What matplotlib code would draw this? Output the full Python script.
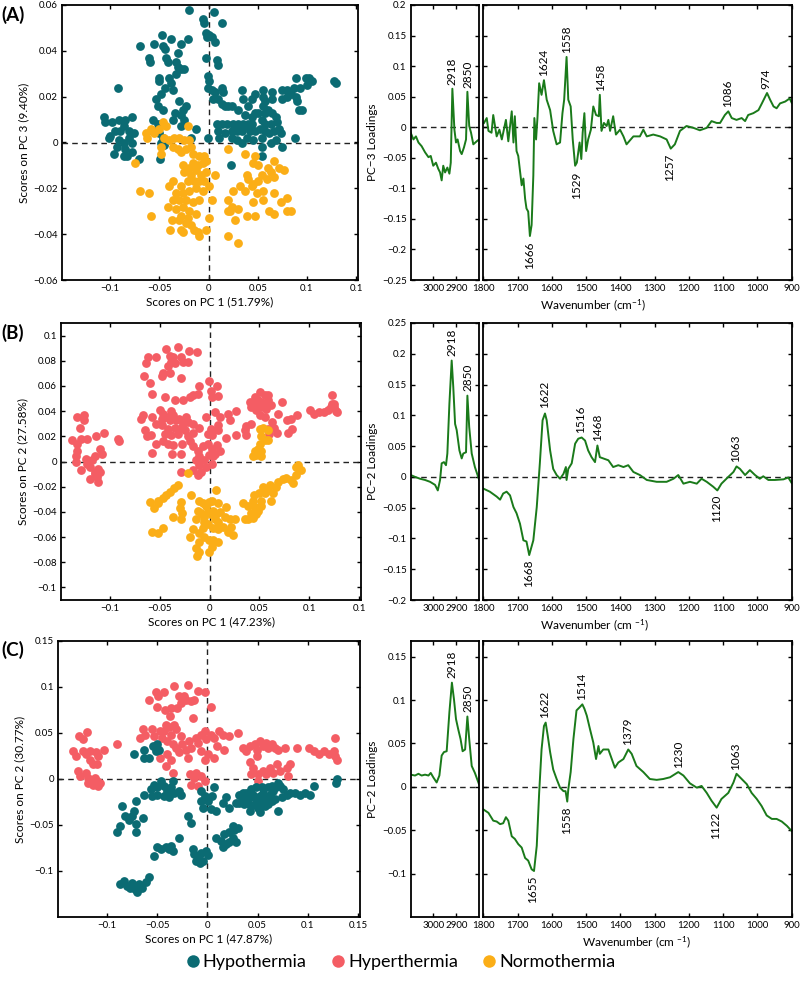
import numpy as np
import matplotlib.pyplot as plt
from matplotlib.lines import Line2D

plt.rcParams['font.family'] = ['Lato', 'DejaVu Sans']
plt.rcParams['mathtext.default'] = 'regular'
plt.rcParams['axes.linewidth'] = 1.3
plt.rcParams['xtick.direction'] = 'in'
plt.rcParams['ytick.direction'] = 'in'
plt.rcParams['xtick.top'] = True
plt.rcParams['ytick.right'] = True

TEAL, RED, ORANGE, GREEN = '#0b6b73', '#f45d64', '#fbae17', '#1a7a1a'
group_names = ['Hypothermia', 'Hyperthermia', 'Normothermia']

# ---------------- scores (A): PC1 vs PC3 ----------------
a_hypo = [(-0.020, 0.058), (0.006, 0.057), (-0.006, 0.054), (0.014, 0.052), (-0.005, 0.052), (-0.003, 0.048),
          (0, 0.047), (0.004, 0.046), (0.007, 0.044), (-0.002, 0.046), (-0.070, 0.042), (-0.047, 0.047),
          (-0.055, 0.043), (-0.046, 0.042), (-0.044, 0.041), (-0.038, 0.045), (-0.028, 0.043), (-0.021, 0.045),
          (-0.031, 0.039), (-0.003, 0.037), (0.009, 0.036), (0.010, 0.034), (-0.061, 0.037), (-0.060, 0.035),
          (-0.043, 0.037), (-0.041, 0.035), (-0.033, 0.035), (-0.031, 0.033), (-0.028, 0.032), (-0.025, 0.032),
          (-0.050, 0.028), (-0.050, 0.027), (-0.040, 0.028), (-0.038, 0.026), (-0.044, 0.024), (-0.036, 0.023),
          (-0.048, 0.021), (-0.033, 0.030), (-0.001, 0.029), (0, 0.027), (-0.001, 0.024), (0.004, 0.023),
          (0.007, 0.022), (0.014, 0.024), (0.015, 0.022), (0.034, 0.023), (0.055, 0.023), (0.065, 0.022),
          (0.075, 0.023), (0.080, 0.023), (0.089, 0.028), (0.099, 0.028), (0.102, 0.028), (0.105, 0.027),
          (0.100, 0.025), (0.128, 0.027), (0.130, 0.026), (0.093, 0.024), (0.087, 0.024), (0.084, 0.021),
          (0.089, 0.020), (0.090, 0.018), (0.092, 0.014), (0.095, 0.014), (0.080, 0.020), (-0.092, 0.024),
          (-0.091, 0.010), (-0.098, 0.009), (-0.106, 0.011), (-0.105, 0.009), (-0.085, 0.010), (-0.078, 0.011),
          (-0.086, 0.007), (-0.081, 0.005), (-0.076, 0.004), (-0.095, 0.005), (-0.090, 0.005), (-0.100, 0.003),
          (-0.091, 0.001), (-0.093, -0.002), (-0.086, 0), (-0.081, 0.002), (-0.078, 0), (-0.085, -0.003),
          (-0.086, -0.006), (-0.096, -0.005), (-0.083, -0.006), (-0.071, -0.007), (-0.078, -0.004), (-0.101, 0.002),
          (-0.053, 0.019), (-0.051, 0.016), (-0.046, 0.014), (-0.056, 0.010), (-0.051, 0.008), (-0.050, 0.004),
          (-0.046, 0.002), (-0.048, 0), (-0.045, -0.001), (-0.049, -0.007), (-0.056, 0.005), (-0.030, 0.018),
          (-0.026, 0.014), (-0.028, 0.012), (-0.023, 0.016), (-0.025, 0.010), (-0.013, 0.006), (-0.018, 0.002),
          (-0.028, 0.007), (-0.036, 0.010), (-0.034, 0.013), (-0.001, 0.002), (0.005, 0.019), (0.010, 0.019),
          (0.014, 0.017), (0.017, 0.016), (0.020, 0.016), (0.024, 0.016), (0.030, 0.014), (0.037, 0.012),
          (0.044, 0.011), (0.047, 0.013), (0.050, 0.013), (0.057, 0.013), (0.060, 0.014), (0.065, 0.013),
          (0.069, 0.011), (0.070, 0.009), (0.064, 0.008), (0.057, 0.008), (0.054, 0.010), (0.044, 0.008),
          (0.040, 0.008), (0.035, 0.008), (0.030, 0.008), (0.025, 0.008), (0.019, 0.008), (0.014, 0.008),
          (0.009, 0.008), (0.010, 0.005), (0.011, 0.002), (0.017, 0.004), (0.024, 0.005), (0.029, 0.005),
          (0.034, 0.005), (0.039, 0.007), (0.042, 0.005), (0.047, 0.005), (0.052, 0.006), (0.057, 0.005),
          (0.062, 0.004), (0.067, 0.005), (0.072, 0.006), (0.074, 0.004), (0.069, 0.001), (0.064, 0),
          (0.075, -0.002), (0.088, 0.002), (0.054, 0.002), (0.045, 0.001), (0.039, 0.002), (0.034, 0),
          (0.029, 0.001), (0.024, 0.002), (0.054, -0.002), (0.054, -0.006), (0.023, -0.010), (0.055, 0.020),
          (0.057, 0.018), (0.055, 0.016), (0.065, 0.019), (0.075, 0.019), (0.044, 0.019), (0.047, 0.021),
          (0.040, 0.016), (0.035, 0.019)]
a_normo = [(-0.075, -0.009), (-0.070, -0.021), (-0.061, -0.022), (-0.059, -0.032), (-0.063, 0.002), (-0.059, 0.006),
           (-0.064, 0.004), (-0.055, 0.004), (-0.050, 0.006), (-0.046, 0.009), (-0.043, 0.007), (-0.045, 0.002),
           (-0.048, -0.002), (-0.048, -0.005), (-0.040, 0.001), (-0.035, 0.002), (-0.030, 0.002), (-0.025, 0.001),
           (-0.021, 0.007), (-0.020, 0.001), (-0.036, -0.002), (-0.031, -0.003), (-0.028, -0.004), (-0.023, -0.003),
           (-0.018, -0.002), (-0.016, -0.005), (-0.010, -0.006), (-0.005, -0.006), (-0.003, -0.008), (-0.006, -0.009),
           (-0.011, -0.010), (-0.016, -0.009), (-0.020, -0.011), (-0.026, -0.010), (-0.025, -0.013), (-0.018, -0.014),
           (-0.013, -0.012), (-0.008, -0.014), (-0.003, -0.013), (0.007, -0.014), (-0.021, -0.017), (-0.015, -0.017),
           (-0.010, -0.017), (-0.005, -0.017), (-0.028, -0.019), (-0.036, -0.017), (-0.040, -0.019), (-0.033, -0.022),
           (-0.026, -0.022), (-0.020, -0.021), (-0.013, -0.020), (-0.006, -0.021), (0, -0.019), (-0.036, -0.025),
           (-0.030, -0.025), (-0.023, -0.025), (-0.016, -0.026), (-0.010, -0.025), (0.004, -0.025), (-0.041, -0.028),
           (-0.033, -0.029), (-0.026, -0.028), (-0.020, -0.030), (-0.013, -0.031), (-0.028, -0.032), (-0.021, -0.033),
           (-0.030, -0.034), (-0.037, -0.034), (-0.023, -0.035), (-0.018, -0.036), (-0.015, -0.038), (-0.010, -0.041),
           (-0.003, -0.038), (-0.039, -0.038), (-0.028, -0.038), (-0.026, -0.039), (-0.011, -0.039), (0, -0.033),
           (0.020, -0.003), (0.037, -0.005), (0.047, -0.006), (0.045, -0.009), (0.050, -0.010), (0.054, -0.014),
           (0.060, -0.011), (0.064, -0.013), (0.067, -0.008), (0.072, -0.011), (0.077, -0.012), (0.067, -0.015),
           (0.059, -0.016), (0.050, -0.017), (0.045, -0.018), (0.040, -0.016), (0.039, -0.014), (0.044, -0.019),
           (0.037, -0.021), (0.032, -0.019), (0.025, -0.021), (0.049, -0.022), (0.055, -0.021), (0.067, -0.022),
           (0.080, -0.024), (0.074, -0.026), (0.084, -0.030), (0.080, -0.030), (0.067, -0.031), (0.062, -0.030),
           (0.055, -0.025), (0.045, -0.026), (0.039, -0.032), (0.047, -0.032), (0.030, -0.029), (0.024, -0.028),
           (0.020, -0.025), (0.022, -0.030), (0.027, -0.034), (0.020, -0.041), (0.030, -0.044), (0.020, -0.030)]

# ---------------- scores (B): PC1 vs PC2 ----------------
b_hyper = [(-0.138, 0.017), (-0.133, 0.035), (-0.126, 0.037), (-0.126, 0.033), (-0.130, 0.027), (-0.129, 0.018),
           (-0.133, 0.014), (-0.123, 0.018), (-0.114, 0.020), (-0.106, 0.023), (-0.133, 0.008), (-0.134, 0.004),
           (-0.134, 0), (-0.129, -0.007), (-0.124, 0.002), (-0.123, -0.002), (-0.118, 0.001), (-0.120, -0.004),
           (-0.115, 0.004), (-0.110, 0.010), (-0.108, 0.006), (-0.112, -0.006), (-0.115, -0.008), (-0.113, -0.012),
           (-0.120, -0.014), (-0.112, -0.016), (-0.115, -0.010), (-0.110, -0.008), (-0.092, 0.018), (-0.091, 0.016),
           (-0.062, 0.083), (-0.064, 0.078), (-0.066, 0.068), (-0.060, 0.062), (-0.058, 0.054), (-0.054, 0.083),
           (-0.044, 0.089), (-0.040, 0.084), (-0.037, 0.083), (-0.039, 0.079), (-0.035, 0.078), (-0.032, 0.091),
           (-0.029, 0.083), (-0.027, 0.079), (-0.022, 0.079), (-0.021, 0.088), (-0.013, 0.087), (-0.042, 0.076),
           (-0.047, 0.070), (-0.040, 0.070), (-0.048, 0.068), (-0.029, 0.066), (-0.045, 0.051), (-0.035, 0.049),
           (-0.027, 0.049), (-0.020, 0.051), (-0.017, 0.053), (-0.012, 0.054), (-0.011, 0.060), (-0.001, 0.064),
           (0.008, 0.060), (0.001, 0.056), (0.003, 0.051), (0.009, 0.052), (-0.067, 0.037), (-0.069, 0.034),
           (-0.058, 0.035), (-0.050, 0.041), (-0.048, 0.034), (-0.047, 0.038), (-0.044, 0.035), (-0.040, 0.033),
           (-0.039, 0.040), (-0.037, 0.037), (-0.034, 0.033), (-0.031, 0.034), (-0.027, 0.030), (-0.024, 0.035),
           (-0.022, 0.031), (-0.029, 0.027), (-0.035, 0.027), (-0.042, 0.026), (-0.048, 0.029), (-0.054, 0.030),
           (-0.045, 0.022), (-0.039, 0.021), (-0.032, 0.022), (-0.025, 0.025), (-0.017, 0.030), (-0.017, 0.023),
           (-0.011, 0.027), (-0.004, 0.035), (0.006, 0.039), (0.011, 0.035), (0.019, 0.038), (0.027, 0.040),
           (0.021, 0.033), (0.009, 0.029), (0.001, 0.026), (-0.002, 0.022), (0.003, 0.021), (0.009, 0.025),
           (0.017, 0.019), (-0.065, 0.025), (-0.063, 0.020), (-0.059, 0.021), (-0.054, 0.014), (-0.047, 0.016),
           (-0.042, 0.014), (-0.037, 0.013), (-0.028, 0.014), (-0.022, 0.020), (-0.020, 0.016), (-0.017, 0.012),
           (-0.012, 0.008), (-0.011, 0.004), (-0.014, 0.001), (-0.007, 0.012), (-0.002, 0.014), (0.003, 0.010),
           (0.008, 0.013), (0.006, 0.006), (0.011, 0.008), (-0.001, 0.005), (-0.006, 0.001), (-0.011, -0.003),
           (-0.004, -0.004), (-0.009, -0.008), (-0.012, -0.011), (-0.017, -0.007), (-0.029, -0.008), (-0.038, 0.006),
           (-0.029, 0.006), (-0.058, 0.007), (0.004, 0.004), (0.003, -0.002), (0.041, 0.047), (0.046, 0.046),
           (0.049, 0.049), (0.052, 0.047), (0.056, 0.046), (0.059, 0.049), (0.051, 0.055), (0.056, 0.053),
           (0.046, 0.051), (0.052, 0.043), (0.047, 0.041), (0.057, 0.042), (0.062, 0.045), (0.073, 0.047),
           (0.042, 0.043), (0.059, 0.053), (0.037, 0.028), (0.042, 0.030), (0.036, 0.025), (0.037, 0.021),
           (0.051, 0.037), (0.056, 0.035), (0.069, 0.038), (0.063, 0.031), (0.065, 0.027), (0.068, 0.023),
           (0.060, 0.022), (0.059, 0.026), (0.078, 0.033), (0.082, 0.034), (0.079, 0.023), (0.083, 0.026),
           (0.088, 0.037), (0.101, 0.041), (0.105, 0.038), (0.110, 0.039), (0.115, 0.039), (0.119, 0.041),
           (0.122, 0.043), (0.123, 0.046), (0.125, 0.043), (0.127, 0.040), (0.128, 0.039), (0.123, 0.053),
           (0.125, 0.046), (0.027, 0.021)]
b_normo = [(-0.022, -0.009), (-0.032, -0.019), (-0.036, -0.021), (-0.040, -0.024), (-0.044, -0.027), (-0.047, -0.029),
           (-0.052, -0.031), (-0.060, -0.032), (-0.056, -0.037), (-0.052, -0.033), (-0.029, -0.032), (-0.030, -0.037),
           (-0.028, -0.041), (-0.037, -0.044), (-0.029, -0.046), (-0.019, -0.027), (-0.047, -0.053), (-0.052, -0.057),
           (-0.058, -0.056), (-0.020, -0.060), (-0.011, -0.031), (-0.007, -0.033), (-0.004, -0.035), (-0.001, -0.032),
           (0.003, -0.031), (0.007, -0.023), (0.009, -0.033), (-0.012, -0.039), (-0.009, -0.041), (-0.006, -0.044),
           (-0.002, -0.040), (0.001, -0.042), (0.004, -0.039), (0.007, -0.042), (0.011, -0.040), (0.016, -0.044),
           (0.021, -0.046), (0.026, -0.046), (0.022, -0.052), (0.019, -0.056), (0.024, -0.058), (0.014, -0.052),
           (0.009, -0.054), (0.004, -0.053), (-0.002, -0.050), (-0.007, -0.053), (-0.011, -0.057), (-0.006, -0.060),
           (-0.001, -0.062), (0.004, -0.062), (0.009, -0.064), (-0.011, -0.064), (-0.014, -0.069), (-0.011, -0.072),
           (-0.013, -0.075), (-0.001, -0.072), (0.003, -0.068), (-0.006, -0.048), (0.006, -0.046), (0.017, -0.036),
           (0.009, -0.048), (-0.014, -0.046), (-0.017, -0.054), (0.034, -0.033), (0.039, -0.035), (0.044, -0.031),
           (0.046, -0.036), (0.049, -0.039), (0.042, -0.041), (0.039, -0.046), (0.044, -0.045), (0.047, -0.042),
           (0.052, -0.035), (0.050, -0.025), (0.056, -0.025), (0.054, -0.020), (0.059, -0.023), (0.061, -0.019),
           (0.064, -0.025), (0.067, -0.020), (0.069, -0.016), (0.074, -0.014), (0.077, -0.013), (0.082, -0.015),
           (0.084, -0.017), (0.087, -0.011), (0.087, -0.004), (0.090, -0.006), (0.092, -0.007), (0.089, -0.003),
           (0.045, -0.027), (0.052, -0.031), (0.062, -0.031), (0.036, -0.046), (0.051, 0.026), (0.054, 0.027),
           (0.059, 0.025), (0.052, 0.020), (0.056, 0.017), (0.051, 0.014), (0.049, 0.010), (0.046, 0.008),
           (0.047, 0.005), (0.044, 0.004), (0.052, 0.004), (0.052, 0.008), (0.059, 0.017)]

# ---------------- scores (C): PC1 vs PC2 ----------------
c_hyper = [(-0.134, 0.030), (-0.128, 0.047), (-0.120, 0.051), (-0.124, 0.043), (-0.131, 0.025), (-0.129, 0.009),
           (-0.127, 0.003), (-0.124, 0.030), (-0.121, 0.027), (-0.117, 0.030), (-0.111, 0.029), (-0.103, 0.032),
           (-0.109, 0.025), (-0.117, 0.021), (-0.114, 0.016), (-0.110, 0.016), (-0.121, 0.007), (-0.119, 0.001),
           (-0.117, -0.002), (-0.114, -0.006), (-0.110, -0.002), (-0.109, -0.008), (-0.112, 0.001), (-0.107, -0.004),
           (-0.119, -0.004), (-0.090, 0.038), (-0.051, 0.095), (-0.043, 0.095), (-0.049, 0.090), (-0.058, 0.086),
           (-0.050, 0.078), (-0.042, 0.075), (-0.036, 0.077), (-0.033, 0.101), (-0.028, 0.090), (-0.023, 0.090),
           (-0.019, 0.102), (-0.026, 0.083), (-0.030, 0.077), (-0.021, 0.086), (-0.016, 0.085), (-0.013, 0.086),
           (-0.009, 0.096), (-0.002, 0.095), (0.003, 0.078), (-0.014, 0.066), (-0.037, 0.068), (-0.043, 0.052),
           (-0.064, 0.054), (-0.062, 0.048), (-0.067, 0.045), (-0.055, 0.054), (-0.053, 0.047), (-0.047, 0.052),
           (-0.045, 0.045), (-0.041, 0.059), (-0.038, 0.056), (-0.036, 0.048), (-0.033, 0.059), (-0.031, 0.054),
           (-0.026, 0.047), (-0.040, 0.041), (-0.034, 0.038), (-0.031, 0.034), (-0.028, 0.029), (-0.025, 0.038),
           (-0.021, 0.032), (-0.018, 0.041), (-0.016, 0.034), (-0.011, 0.045), (-0.009, 0.039), (-0.006, 0.048),
           (-0.002, 0.052), (-0.001, 0.043), (0.003, 0.048), (0.006, 0.045), (0.011, 0.052), (0.015, 0.048),
           (0.021, 0.047), (0.030, 0.050), (0.009, 0.036), (-0.006, 0.030), (0.001, 0.027), (0.006, 0.023),
           (-0.002, 0.021), (-0.019, 0.023), (-0.040, 0.027), (-0.036, 0.021), (-0.047, 0.023), (-0.041, 0.014),
           (-0.034, 0.007), (-0.050, 0.034), (0.016, 0.032), (-0.017, 0.005), (-0.013, 0.001), (-0.016, -0.006),
           (-0.009, -0.008), (-0.006, 0.003), (-0.002, -0.002), (-0.011, 0.007), (0.035, 0.034), (0.038, 0.030),
           (0.042, 0.036), (0.047, 0.038), (0.049, 0.032), (0.052, 0.041), (0.055, 0.036), (0.058, 0.039),
           (0.060, 0.034), (0.064, 0.038), (0.067, 0.034), (0.070, 0.032), (0.077, 0.034), (0.089, 0.034),
           (0.049, 0.025), (0.042, 0.019), (0.045, 0.012), (0.043, 0.005), (0.050, 0.005), (0.055, 0.009),
           (0.058, 0.005), (0.062, 0.012), (0.065, 0.007), (0.069, 0.016), (0.072, 0.009), (0.079, 0.012),
           (0.080, 0.003), (0.082, 0.016), (0.101, 0.034), (0.106, 0.030), (0.111, 0.027), (0.116, 0.030),
           (0.121, 0.027), (0.126, 0.030), (0.127, 0.025), (0.129, 0.021), (0.127, 0.045), (0.050, -0.002)]
c_hypo = [(-0.073, 0.027), (-0.063, 0.032), (-0.063, 0.023), (-0.058, 0.023), (-0.054, 0.036), (-0.051, 0.030),
          (-0.048, 0.032), (-0.050, 0.038), (-0.053, -0.006), (-0.050, -0.009), (-0.046, -0.002), (-0.043, -0.008),
          (-0.040, -0.013), (-0.036, -0.009), (-0.034, -0.002), (-0.033, -0.015), (-0.028, -0.013), (-0.026, -0.017),
          (-0.043, -0.018), (-0.050, -0.017), (-0.056, -0.011), (-0.063, -0.017), (-0.055, -0.018), (-0.038, -0.020),
          (-0.085, -0.029), (-0.071, -0.024), (-0.073, -0.035), (-0.075, -0.040), (-0.082, -0.040), (-0.078, -0.045),
          (-0.071, -0.049), (-0.064, -0.042), (-0.087, -0.051), (-0.090, -0.058), (-0.071, -0.058), (-0.053, -0.084),
          (-0.050, -0.074), (-0.046, -0.076), (-0.041, -0.074), (-0.036, -0.073), (-0.034, -0.078), (-0.038, -0.076),
          (-0.028, -0.064), (-0.087, -0.114), (-0.083, -0.111), (-0.080, -0.116), (-0.075, -0.113), (-0.072, -0.120),
          (-0.068, -0.114), (-0.065, -0.118), (-0.061, -0.112), (-0.058, -0.107), (-0.070, -0.123), (-0.077, -0.118),
          (-0.019, -0.040), (-0.016, -0.048), (-0.014, -0.076), (-0.013, -0.082), (-0.009, -0.085), (-0.006, -0.080),
          (-0.004, -0.089), (-0.001, -0.078), (0.001, -0.083), (-0.011, -0.089), (-0.007, -0.091), (-0.006, -0.013),
          (-0.002, -0.018), (-0.006, -0.024), (0.001, -0.024), (0.004, -0.018), (-0.004, -0.031), (0.003, -0.033),
          (0.008, -0.035), (0.015, -0.026), (0.018, -0.020), (0.006, -0.009), (0.021, -0.031), (0.028, -0.026),
          (0.008, -0.064), (0.013, -0.067), (0.016, -0.060), (0.021, -0.058), (0.025, -0.064), (0.026, -0.055),
          (0.030, -0.053), (0.028, -0.069), (0.021, -0.069), (0.015, -0.074), (0.018, -0.071), (0.025, -0.051),
          (0.031, -0.017), (0.035, -0.020), (0.038, -0.015), (0.042, -0.020), (0.045, -0.017), (0.048, -0.022),
          (0.052, -0.018), (0.055, -0.015), (0.058, -0.020), (0.062, -0.017), (0.065, -0.013), (0.068, -0.009),
          (0.072, -0.008), (0.075, -0.011), (0.079, -0.017), (0.082, -0.015), (0.087, -0.015), (0.092, -0.017),
          (0.097, -0.015), (0.102, -0.017), (0.106, -0.008), (0.036, -0.027), (0.040, -0.026), (0.043, -0.029),
          (0.047, -0.027), (0.050, -0.031), (0.054, -0.026), (0.057, -0.029), (0.060, -0.027), (0.064, -0.024),
          (0.067, -0.022), (0.070, -0.035), (0.074, -0.020), (0.048, -0.009), (0.054, -0.009), (0.060, -0.009),
          (0.064, -0.008), (0.070, -0.004), (0.031, -0.026), (0.042, -0.035), (0.052, -0.036), (0.035, -0.015),
          (0.043, -0.011), (0.128, -0.004), (0.129, 0.000)]

# ---------------- loadings spectra ----------------
a_ch_wn = [3100, 3088, 3077, 3066, 3052, 3037, 3022, 3012, 3001, 2989, 2979, 2971, 2964, 2957, 2949, 2939, 2930,
           2924, 2917, 2908, 2901, 2894, 2883, 2876, 2866, 2857, 2851, 2843, 2835, 2825, 2810, 2800]
a_ch_ld = [-0.009, -0.020, -0.015, -0.025, -0.031, -0.041, -0.049, -0.047, -0.063, -0.058, -0.068, -0.074, -0.087,
           -0.063, -0.074, -0.066, -0.076, -0.058, 0.063, -0.004, -0.025, -0.020, -0.039, -0.044, -0.033, -0.020,
           0.058, 0.002, -0.009, -0.028, -0.023, -0.020]
a_fp_wn = [1798, 1790, 1785, 1776, 1771, 1761, 1753, 1746, 1734, 1727, 1717, 1712, 1708, 1703, 1698, 1688, 1683,
           1678, 1674, 1669, 1664, 1659, 1654, 1651, 1646, 1642, 1637, 1630, 1623, 1615, 1605, 1596, 1586, 1576,
           1569, 1564, 1557, 1552, 1545, 1539, 1532, 1527, 1519, 1514, 1510, 1505, 1500, 1494, 1486, 1479, 1471,
           1463, 1460, 1455, 1448, 1440, 1435, 1430, 1421, 1413, 1401, 1391, 1382, 1362, 1343, 1333, 1323, 1304,
           1284, 1265, 1253, 1241, 1226, 1207, 1187, 1168, 1148, 1134, 1119, 1109, 1095, 1085, 1075, 1061, 1046,
           1036, 1027, 1012, 997, 987, 972, 963, 953, 944, 934, 919, 906, 900]
a_fp_ld = [0.007, 0.015, -0.006, -0.009, 0.020, -0.015, -0.004, -0.020, 0.012, -0.023, 0.026, -0.025, 0.018, -0.039,
           -0.047, -0.095, -0.084, -0.117, -0.133, -0.138, -0.178, -0.160, -0.079, 0.015, -0.020, 0.015, 0.072,
           0.053, 0.077, 0.045, 0.028, -0.006, -0.028, -0.025, 0.023, 0.045, 0.115, 0.045, 0.034, -0.020, -0.063,
           -0.058, -0.025, -0.052, -0.009, 0.023, -0.039, -0.020, -0.004, 0.034, 0.020, 0.018, 0.053, -0.006, 0.007,
           0.002, 0.012, -0.006, 0.018, -0.012, -0.004, -0.015, -0.028, -0.015, -0.015, -0.004, -0.015, -0.012,
           -0.015, -0.020, -0.035, -0.028, -0.006, 0.002, -0.001, -0.005, -0.001, 0.010, 0.007, 0.007, 0.020, 0.026,
           0.015, 0.012, 0.015, 0.010, 0.020, 0.023, 0.028, 0.039, 0.056, 0.045, 0.034, 0.031, 0.039, 0.042, 0.047,
           0.040]

b_ch_wn = [3100, 3081, 3059, 3037, 3015, 2993, 2981, 2971, 2964, 2954, 2945, 2939, 2930, 2920, 2913, 2905, 2898,
           2886, 2876, 2869, 2857, 2851, 2843, 2832, 2818, 2800]
b_ch_ld = [0.003, 0, -0.003, -0.005, -0.008, -0.013, -0.022, -0.005, 0.022, 0.024, 0.019, 0.038, 0.119, 0.189,
           0.146, 0.086, 0.076, 0.043, 0.030, 0.038, 0.040, 0.132, 0.081, 0.038, 0.016, -0.004]
b_fp_wn = [1800, 1781, 1761, 1751, 1742, 1732, 1722, 1712, 1703, 1693, 1683, 1674, 1666, 1659, 1654, 1644, 1635,
           1627, 1620, 1615, 1605, 1596, 1586, 1576, 1566, 1559, 1557, 1552, 1542, 1532, 1523, 1513, 1503, 1494,
           1484, 1474, 1467, 1460, 1450, 1435, 1421, 1406, 1391, 1377, 1362, 1343, 1323, 1294, 1265, 1245, 1231,
           1216, 1197, 1177, 1163, 1148, 1129, 1117, 1105, 1085, 1070, 1061, 1051, 1036, 1022, 1007, 993, 983, 968,
           949, 924, 910, 900]
b_fp_ld = [-0.019, -0.024, -0.032, -0.037, -0.027, -0.024, -0.030, -0.049, -0.059, -0.076, -0.103, -0.105, -0.127,
           -0.113, -0.103, -0.049, 0.022, 0.092, 0.103, 0.092, 0.043, 0.013, 0.003, -0.003, 0.005, 0.016, -0.005,
           0.013, 0.022, 0.054, 0.062, 0.064, 0.059, 0.043, 0.032, 0.024, 0.051, 0.032, 0.030, 0.027, 0.016, 0.019,
           0.016, 0.019, 0.008, 0.003, -0.005, -0.008, -0.008, -0.003, 0.003, -0.011, -0.008, -0.011, -0.003,
           -0.008, -0.016, -0.022, -0.011, 0, 0.008, 0.017, 0.013, 0.003, 0.011, 0.003, -0.003, 0.001, -0.005,
           -0.005, -0.004, -0.001, -0.010]

c_ch_wn = [3100, 3081, 3066, 3052, 3037, 3022, 3012, 3001, 2986, 2974, 2964, 2954, 2942, 2930, 2919, 2910, 2901,
           2891, 2881, 2872, 2861, 2851, 2843, 2832, 2818, 2800]
c_ch_ld = [0.014, 0.013, 0.015, 0.013, 0.014, 0.013, 0.016, 0.011, 0.005, 0.013, 0.036, 0.040, 0.041, 0.086, 0.120,
           0.101, 0.078, 0.066, 0.055, 0.041, 0.043, 0.081, 0.055, 0.024, 0.016, 0.003]
c_fp_wn = [1800, 1785, 1771, 1761, 1751, 1742, 1734, 1727, 1717, 1708, 1698, 1688, 1678, 1669, 1659, 1652, 1644,
           1637, 1630, 1623, 1618, 1612, 1605, 1596, 1586, 1576, 1566, 1560, 1555, 1552, 1545, 1537, 1528, 1518,
           1511, 1505, 1498, 1489, 1479, 1471, 1464, 1460, 1450, 1435, 1425, 1416, 1406, 1391, 1377, 1367, 1353,
           1333, 1314, 1294, 1275, 1255, 1231, 1216, 1197, 1177, 1163, 1148, 1134, 1119, 1105, 1085, 1070, 1061,
           1046, 1031, 1017, 1002, 988, 973, 958, 944, 929, 914, 900]
c_fp_ld = [-0.026, -0.030, -0.039, -0.040, -0.043, -0.042, -0.035, -0.039, -0.057, -0.060, -0.066, -0.070, -0.082,
           -0.085, -0.095, -0.097, -0.068, -0.007, 0.043, 0.070, 0.074, 0.059, 0.040, 0.020, 0.009, -0.001, -0.005,
           -0.005, -0.017, -0.003, 0.017, 0.055, 0.088, 0.092, 0.095, 0.090, 0.082, 0.067, 0.051, 0.032, 0.047,
           0.038, 0.043, 0.043, 0.032, 0.022, 0.028, 0.032, 0.043, 0.038, 0.024, 0.017, 0.009, 0.008, 0.009, 0.011,
           0.017, 0.013, 0.004, -0.001, 0.001, -0.007, -0.016, -0.024, -0.014, -0.007, 0.005, 0.015, 0.009, 0.003,
           -0.007, -0.014, -0.022, -0.033, -0.037, -0.037, -0.040, -0.045, -0.051]

# peak labels: wavenumber, value at label anchor, +1 above / -1 below
a_peaks = [(2918, 0.063, 1), (2850, 0.058, 1), (1624, 0.077, 1), (1558, 0.115, 1), (1458, 0.053, 1),
           (1086, 0.026, 1), (974, 0.056, 1), (1666, -0.180, -1), (1529, -0.066, -1), (1257, -0.037, -1)]
b_peaks = [(2918, 0.190, 1), (2850, 0.133, 1), (1622, 0.105, 1), (1516, 0.064, 1), (1468, 0.052, 1),
           (1063, 0.017, 1), (1668, -0.128, -1), (1120, -0.022, -1)]
c_peaks = [(2918, 0.120, 1), (2850, 0.081, 1), (1622, 0.075, 1), (1514, 0.095, 1), (1379, 0.043, 1),
           (1230, 0.017, 1), (1063, 0.015, 1), (1655, -0.097, -1), (1558, -0.018, -1), (1122, -0.024, -1)]


def fmt(v):
    s = ('%.2f' % v).rstrip('0').rstrip('.')
    if s in ('-0', '0'):
        return '0'
    return s.replace('-', '\u2212')


fig = plt.figure(figsize=(8, 9.81), dpi=100)
W, H = 800.0, 981.0
TICK_FS, LAB_FS, PEAK_FS = 7, 8.5, 8.5


def box(l, t, r, b):
    return [l / W, 1 - b / H, (r - l) / W, (b - t) / H]


def scores(rect, groups, xticklabels, ylim, yticks, ylabel, xlabel, label, label_y):
    ax = fig.add_axes(rect)
    for pts, col in groups:
        xy = np.array(pts)
        ax.scatter(xy[:, 0], xy[:, 1], s=40, color=col, linewidths=0, zorder=3)
    ax.axhline(0, color='#222222', lw=1, ls=(0, (4, 3)), zorder=2)
    ax.axvline(0, color='#222222', lw=1, ls=(0, (4, 3)), zorder=2)
    ax.set_xlim(-0.149, 0.152)
    ax.set_ylim(*ylim)
    ax.set_xticks([-0.1, -0.05, 0, 0.05, 0.1, 0.15])
    ax.set_xticklabels(xticklabels)
    ax.set_yticks(yticks)
    ax.set_yticklabels([fmt(v) for v in yticks])
    ax.tick_params(labelsize=TICK_FS, length=3, width=1, pad=3)
    ax.set_xlabel(xlabel, fontsize=LAB_FS, labelpad=2)
    ax.set_ylabel(ylabel, fontsize=LAB_FS, labelpad=3)
    fig.text(0.002, 1 - label_y / H, label, fontsize=13.5, fontweight='bold', va='center', ha='left')


def loadings(top, bottom, ch_wn, ch_ld, fp_wn, fp_ld, ylim, yticks, ylabel, peaks, xlabel, xlabel_x):
    axn = fig.add_axes(box(410.7, top, 479, bottom))
    axw = fig.add_axes(box(483.3, top, 791.7, bottom))
    axn.plot(ch_wn, ch_ld, color=GREEN, lw=1.4)
    axw.plot(fp_wn, fp_ld, color=GREEN, lw=1.4)
    axn.set_xlim(3100, 2800)
    axw.set_xlim(1800, 900)
    axn.set_xticks([3000, 2900])
    axw.set_xticks(np.arange(1800, 899, -100))
    for ax in (axn, axw):
        ax.axhline(0, color='#222222', lw=1, ls=(0, (4, 3)), zorder=1)
        ax.set_ylim(*ylim)
        ax.set_yticks(yticks)
        ax.tick_params(labelsize=TICK_FS, length=3, width=1, pad=3)
        for wn, v, d in peaks:
            lo, hi = sorted(ax.get_xlim())
            if lo <= wn <= hi:
                ax.annotate(str(wn), (wn, v), xytext=(0, 3 * d), textcoords='offset points',
                            rotation=90, ha='center', va='bottom' if d > 0 else 'top', fontsize=PEAK_FS)
    axn.set_yticklabels([fmt(v) for v in yticks])
    axw.set_yticklabels([])
    axn.set_ylabel(ylabel, fontsize=LAB_FS, labelpad=3)
    fig.text(xlabel_x / W, 1 - (bottom + 25) / H, xlabel, fontsize=LAB_FS, ha='center', va='center')


x_lab_ab = ['\u22120.1', '\u22120.05', '0', '0.05', '0.1', '0.1']
x_lab_c = ['\u22120.1', '\u22120.05', '0', '0.05', '0.1', '0.15']

scores(box(62, 5, 358, 280), [(a_hypo, TEAL), (a_normo, ORANGE)], x_lab_ab, (-0.06, 0.06),
       np.arange(-0.06, 0.061, 0.02), 'Scores on PC 3 (9.40%)', 'Scores on PC 1 (51.79%)', '(A)', 15)
scores(box(61, 323, 361, 600), [(b_hyper, RED), (b_normo, ORANGE)], x_lab_ab, (-0.11, 0.11),
       np.arange(-0.1, 0.101, 0.02), 'Scores on PC 2 (27.58%)', 'Scores on PC 1 (47.23%)', '(B)', 333)
scores(box(58, 641, 360, 917), [(c_hyper, RED), (c_hypo, TEAL)], x_lab_c, (-0.15, 0.15),
       np.arange(-0.1, 0.151, 0.05), 'Scores on PC 2 (30.77%)', 'Scores on PC 1 (47.87%)', '(C)', 650)

loadings(5, 280, a_ch_wn, a_ch_ld, a_fp_wn, a_fp_ld, (-0.25, 0.2), np.arange(-0.25, 0.201, 0.05),
         'PC\u22123 Loadings', a_peaks, 'Wavenumber (cm$^{-1}$)', 593)
loadings(323, 600, b_ch_wn, b_ch_ld, b_fp_wn, b_fp_ld, (-0.2, 0.25), np.arange(-0.2, 0.251, 0.05),
         'PC\u22122 Loadings', b_peaks, 'Wavenumber (cm $^{-1}$)', 595)
loadings(641, 917, c_ch_wn, c_ch_ld, c_fp_wn, c_fp_ld, (-0.15, 0.168), np.arange(-0.1, 0.151, 0.05),
         'PC\u22122 Loadings', c_peaks, 'Wavenumber (cm $^{-1}$)', 637)

handles = [Line2D([], [], ls='', marker='o', markersize=9, color=c, markeredgewidth=0)
           for c in (TEAL, RED, ORANGE)]
fig.legend(handles, group_names, loc='center', bbox_to_anchor=(0.5, 1 - 962 / H), ncol=3, frameon=False,
           fontsize=13, handletextpad=0.1, columnspacing=1.3, handlelength=0.9)

fig.savefig('out.png', dpi=100)
